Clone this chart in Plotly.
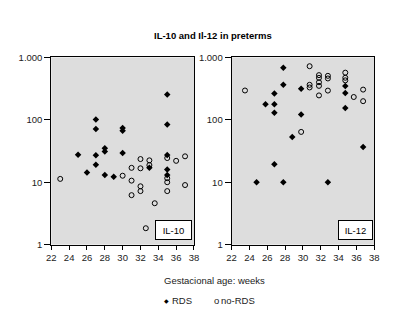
import plotly.graph_objects as go

# ---- data ----
il10_rds_weeks = [35, 35, 27, 27, 30, 30, 25, 27, 28, 28, 30, 27, 26, 28, 29, 33, 35, 35, 35]
il10_rds_values = [255, 84, 101, 71, 67, 74, 27.5, 27, 31, 35, 29.5, 19, 14.3, 13.1, 12.2, 17, 27.4, 16, 13.1]

il10_nords_weeks = [23, 30, 31, 31, 31, 32, 32, 32, 32, 33, 33, 33.6, 32.6, 35, 35, 35, 35, 36, 37, 37]
il10_nords_values = [11.3, 12.7, 17, 10.6, 6.2, 23.5, 16.7, 8.6, 7.2, 22.4, 18.8, 4.6, 1.83, 24.4, 11.6, 10, 7.2, 22, 26, 9]

il12_rds_weeks = [24.8, 25.8, 26.8, 26.8, 26.8, 26.8, 27.8, 27.8, 27.8, 28.8, 29.8, 29.8, 32.8, 34.75, 34.75, 34.75, 36.75]
il12_rds_values = [10, 177, 265, 177, 130, 19.4, 684, 365, 10, 53, 315, 122, 10, 347, 270, 155, 36.5]

il12_nords_weeks = [23.5, 30.75, 30.75, 30.75, 29.8, 31.8, 31.8, 31.8, 31.8, 31.8, 32.8, 32.8, 32.8,
                    34.75, 34.75, 34.75, 35.7, 36.75, 36.75]
il12_nords_values = [295, 723, 364, 330, 64, 520, 470, 400, 350, 246, 507, 460, 294,
                     570, 472, 429, 232, 305, 199]

x_ticks = [22, 24, 26, 28, 30, 32, 34, 36, 38]
y_ticks = [1, 10, 100, 1000]
y_ticktext = ["1", "10", "100", "1.000"]

FONT = "Liberation Sans, Arial, sans-serif"
W, H = 393, 313

fig = go.Figure()

rds_marker = dict(symbol="diamond", size=5, color="black", line=dict(width=0))
nords_marker = dict(symbol="circle-open", size=5, color="black", line=dict(width=1, color="black"))

fig.add_trace(go.Scatter(x=il10_rds_weeks, y=il10_rds_values, mode="markers",
                         marker=rds_marker, name="RDS", xaxis="x", yaxis="y", showlegend=False))
fig.add_trace(go.Scatter(x=il10_nords_weeks, y=il10_nords_values, mode="markers",
                         marker=nords_marker, name="no-RDS", xaxis="x", yaxis="y", showlegend=False))
fig.add_trace(go.Scatter(x=il12_rds_weeks, y=il12_rds_values, mode="markers",
                         marker=rds_marker, name="RDS", xaxis="x2", yaxis="y2", showlegend=False))
fig.add_trace(go.Scatter(x=il12_nords_weeks, y=il12_nords_values, mode="markers",
                         marker=nords_marker, name="no-RDS", xaxis="x2", yaxis="y2", showlegend=False))

ydom = [(H - 239) / H, (H - 45) / H]
xdom1 = [39.3 / W, 185.7 / W]
xdom2 = [224.3 / W, 370.7 / W]

def xaxis(dom, anchor):
    return dict(domain=dom, anchor=anchor, range=[22, 38], tickvals=x_ticks,
                showgrid=False, zeroline=False, showline=True, linecolor="black",
                linewidth=1, mirror=True, ticks="outside", ticklen=4, tickcolor="black",
                tickfont=dict(family=FONT, size=9.5, color="#222"), fixedrange=True)

def yaxis(anchor):
    return dict(domain=ydom, anchor=anchor, type="log", range=[0, 3], tickvals=y_ticks,
                ticktext=y_ticktext, showgrid=False, zeroline=False, showline=True,
                linecolor="black", linewidth=1, mirror=True, ticks="outside", ticklen=6,
                tickcolor="black", tickfont=dict(family=FONT, size=9.5, color="#222"),
                fixedrange=True)

annotations = [
    dict(text="<b>IL-10 and Il-12 in preterms</b>", x=205.5 / W, y=(H - 22.5) / H,
         xref="paper", yref="paper", showarrow=False, xanchor="center", yanchor="middle",
         font=dict(family=FONT, size=9.5, color="black")),
    dict(text="Gestacional age: weeks", x=206.5 / W, y=(H - 276) / H,
         xref="paper", yref="paper", showarrow=False, xanchor="center", yanchor="middle",
         font=dict(family=FONT, size=9.5, color="#222")),
    dict(text="IL-10", x=164.5 / W, y=(H - 224) / H, xref="paper", yref="paper",
         showarrow=False, xanchor="center", yanchor="middle", width=33, height=16,
         bgcolor="white", bordercolor="black", borderwidth=1, borderpad=1,
         font=dict(family=FONT, size=9.5, color="black")),
    dict(text="IL-12", x=351 / W, y=(H - 224) / H, xref="paper", yref="paper",
         showarrow=False, xanchor="center", yanchor="middle", width=31, height=16,
         bgcolor="white", bordercolor="black", borderwidth=1, borderpad=1,
         font=dict(family=FONT, size=9.5, color="black")),
    dict(text="\u25c6", x=157.5 / W, y=(H - 297) / H, xref="paper", yref="paper",
         showarrow=False, xanchor="center", yanchor="middle",
         font=dict(family="DejaVu Sans", size=6, color="black")),
    dict(text="RDS", x=161.5 / W, y=(H - 297) / H, xref="paper", yref="paper",
         showarrow=False, xanchor="left", yanchor="middle",
         font=dict(family=FONT, size=9.5, color="#222")),
    dict(text="o", x=208.5 / W, y=(H - 297) / H, xref="paper", yref="paper",
         showarrow=False, xanchor="center", yanchor="middle",
         font=dict(family=FONT, size=9.5, color="#222")),
    dict(text="no-RDS", x=211.5 / W, y=(H - 297) / H, xref="paper", yref="paper",
         showarrow=False, xanchor="left", yanchor="middle",
         font=dict(family=FONT, size=9.5, color="#222")),
]

fig.update_layout(
    width=W, height=H, margin=dict(l=0, r=0, t=0, b=0),
    paper_bgcolor="white", plot_bgcolor="#dddddd",
    xaxis=xaxis(xdom1, "y"), yaxis=yaxis("x"),
    xaxis2=xaxis(xdom2, "y2"), yaxis2=yaxis("x2"),
    annotations=annotations, showlegend=False,
    font=dict(family=FONT, size=9.5, color="black"),
)

fig.write_html("out.html", config={"displayModeBar": False})
